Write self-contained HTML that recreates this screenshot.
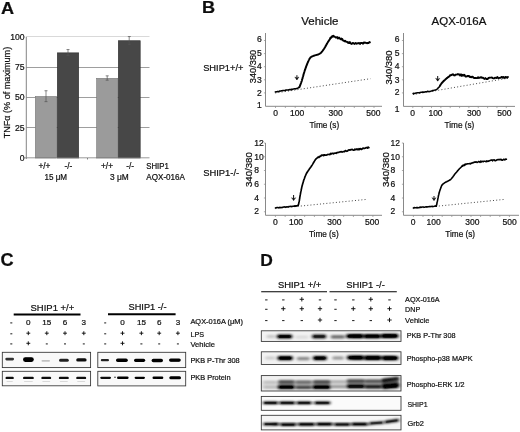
<!DOCTYPE html>
<html><head><meta charset="utf-8"><title>Figure</title>
<style>
html,body{margin:0;padding:0;background:#fff;}
body{width:520px;height:432px;overflow:hidden;font-family:"Liberation Sans",sans-serif;}
svg{display:block;}
text{font-family:"Liberation Sans",sans-serif;fill:#111;stroke:#111;stroke-width:0.22px;}
</style></head><body>
<svg width="520" height="432" viewBox="0 0 520 432">
<defs>
<filter id="b1" x="-20%" y="-100%" width="140%" height="300%"><feGaussianBlur stdDeviation="0.7 0.55"/></filter>
<filter id="b2" x="-20%" y="-100%" width="140%" height="300%"><feGaussianBlur stdDeviation="1.5 0.9"/></filter>
<filter id="soft"><feGaussianBlur stdDeviation="0.35"/></filter>
</defs>
<rect width="520" height="432" fill="#fff"/>
<g filter="url(#soft)">

<text x="0.9" y="14" font-size="17.2" font-weight="bold" fill="#000" stroke="#000" stroke-width="0.6" textLength="13.1" lengthAdjust="spacingAndGlyphs">A</text>
<text x="202" y="13.4" font-size="16.7" font-weight="bold" fill="#000" stroke="#000" stroke-width="0.6" textLength="13.1" lengthAdjust="spacingAndGlyphs">B</text>
<text x="0.5" y="266.3" font-size="17.8" font-weight="bold" fill="#000" stroke="#000" stroke-width="0.6" textLength="13.1" lengthAdjust="spacingAndGlyphs">C</text>
<text x="260.2" y="266.3" font-size="17.3" font-weight="bold" fill="#000" stroke="#000" stroke-width="0.6" textLength="12.6" lengthAdjust="spacingAndGlyphs">D</text>
<line x1="26.3" x2="149.5" y1="127.5" y2="127.5" stroke="#858585" stroke-width="0.8"/>
<line x1="26.3" x2="149.5" y1="97.5" y2="97.5" stroke="#858585" stroke-width="0.8"/>
<line x1="26.3" x2="149.5" y1="67.5" y2="67.5" stroke="#858585" stroke-width="0.8"/>
<line x1="26.3" x2="149.5" y1="36.5" y2="36.5" stroke="#cfcfcf" stroke-width="0.8"/>
<rect x="35.3" y="96.49" width="21.4" height="61.51" fill="#9b9b9b" stroke="#7a7a7a" stroke-width="0.6"/>
<rect x="57.3" y="52.86" width="21.4" height="105.14" fill="#474747" stroke="#2e2e2e" stroke-width="0.6"/>
<rect x="96.6" y="78.31" width="21.1" height="79.69" fill="#9b9b9b" stroke="#7a7a7a" stroke-width="0.6"/>
<rect x="118.3" y="40.74" width="21.9" height="117.26" fill="#474747" stroke="#2e2e2e" stroke-width="0.6"/>
<path d="M46.0 90.73V101.64M44.5 90.73h3M44.5 101.64h3" stroke="#555" stroke-width="0.7" fill="none"/>
<path d="M68.0 49.53V55.59M66.5 49.53h3M66.5 55.59h3" stroke="#555" stroke-width="0.7" fill="none"/>
<path d="M107.2 75.83V80.19M105.7 75.83h3M105.7 80.19h3" stroke="#555" stroke-width="0.7" fill="none"/>
<path d="M129.2 36.56V44.31M127.8 36.56h3M127.8 44.31h3" stroke="#555" stroke-width="0.7" fill="none"/>
<line x1="26.3" x2="26.3" y1="36.80" y2="159.0" stroke="#777" stroke-width="0.9"/>
<line x1="24.5" x2="149.5" y1="157.8" y2="157.8" stroke="#808080" stroke-width="0.8"/>
<line x1="87.5" x2="87.5" y1="158.0" y2="159.5" stroke="#666" stroke-width="0.8"/>
<text x="24.50" y="39.70" font-size="8.6" text-anchor="end" >100</text>
<text x="24.50" y="70.00" font-size="8.6" text-anchor="end" >75</text>
<text x="24.50" y="100.30" font-size="8.6" text-anchor="end" >50</text>
<text x="24.50" y="130.60" font-size="8.6" text-anchor="end" >25</text>
<text x="24.50" y="160.90" font-size="8.6" text-anchor="end" >0</text>
<text x="6.30" y="95.91" font-size="9.2" text-anchor="middle" textLength="91.50" lengthAdjust="spacingAndGlyphs" transform="rotate(-90 6.30 92.60)" >TNF&#945; (% of maximum)</text>
<text x="44.40" y="168.69" font-size="8.3" text-anchor="middle" >+/+</text>
<text x="68.30" y="168.69" font-size="8.3" text-anchor="middle" >-/-</text>
<text x="107.00" y="168.69" font-size="8.3" text-anchor="middle" >+/+</text>
<text x="130.20" y="168.69" font-size="8.3" text-anchor="middle" >-/-</text>
<text x="55.80" y="179.89" font-size="8.3" text-anchor="middle" textLength="22.50" lengthAdjust="spacingAndGlyphs" >15 &#956;M</text>
<text x="119.40" y="179.89" font-size="8.3" text-anchor="middle" textLength="18.70" lengthAdjust="spacingAndGlyphs" >3 &#956;M</text>
<text x="146.30" y="168.95" font-size="8.2" textLength="22.50" lengthAdjust="spacingAndGlyphs" >SHIP1</text>
<text x="146.30" y="179.85" font-size="8.2" textLength="38.70" lengthAdjust="spacingAndGlyphs" >AQX-016A</text>
<text x="319.80" y="24.60" font-size="11.4" text-anchor="middle" textLength="37.20" lengthAdjust="spacingAndGlyphs" >Vehicle</text>
<text x="459.00" y="24.60" font-size="11.4" text-anchor="middle" textLength="54.80" lengthAdjust="spacingAndGlyphs" >AQX-016A</text>
<text x="203.20" y="71.05" font-size="9.3" textLength="40.20" lengthAdjust="spacingAndGlyphs" >SHIP1+/+</text>
<text x="203.20" y="175.51" font-size="9.2" textLength="36.00" lengthAdjust="spacingAndGlyphs" >SHIP1-/-</text>
<path d="M265.5 33V106.3H382" stroke="#7c7c7c" stroke-width="0.9" fill="none"/>
<line x1="263.9" x2="265.5" y1="40.50" y2="40.50" stroke="#8a8a8a" stroke-width="0.7"/>
<line x1="263.9" x2="265.5" y1="53.60" y2="53.60" stroke="#8a8a8a" stroke-width="0.7"/>
<line x1="263.9" x2="265.5" y1="66.70" y2="66.70" stroke="#8a8a8a" stroke-width="0.7"/>
<line x1="263.9" x2="265.5" y1="79.80" y2="79.80" stroke="#8a8a8a" stroke-width="0.7"/>
<line x1="263.9" x2="265.5" y1="92.90" y2="92.90" stroke="#8a8a8a" stroke-width="0.7"/>
<line x1="275.50" x2="275.50" y1="106.3" y2="108.0" stroke="#8a8a8a" stroke-width="0.7"/>
<line x1="285.35" x2="285.35" y1="106.3" y2="108.0" stroke="#8a8a8a" stroke-width="0.7"/>
<line x1="295.20" x2="295.20" y1="106.3" y2="108.0" stroke="#8a8a8a" stroke-width="0.7"/>
<line x1="305.05" x2="305.05" y1="106.3" y2="108.0" stroke="#8a8a8a" stroke-width="0.7"/>
<line x1="314.90" x2="314.90" y1="106.3" y2="108.0" stroke="#8a8a8a" stroke-width="0.7"/>
<line x1="324.75" x2="324.75" y1="106.3" y2="108.0" stroke="#8a8a8a" stroke-width="0.7"/>
<line x1="334.60" x2="334.60" y1="106.3" y2="108.0" stroke="#8a8a8a" stroke-width="0.7"/>
<line x1="344.45" x2="344.45" y1="106.3" y2="108.0" stroke="#8a8a8a" stroke-width="0.7"/>
<line x1="354.30" x2="354.30" y1="106.3" y2="108.0" stroke="#8a8a8a" stroke-width="0.7"/>
<line x1="364.15" x2="364.15" y1="106.3" y2="108.0" stroke="#8a8a8a" stroke-width="0.7"/>
<line x1="374.00" x2="374.00" y1="106.3" y2="108.0" stroke="#8a8a8a" stroke-width="0.7"/>
<text x="261.70" y="41.86" font-size="8.5" text-anchor="end" >6</text>
<text x="261.70" y="55.66" font-size="8.5" text-anchor="end" >5</text>
<text x="261.70" y="69.16" font-size="8.5" text-anchor="end" >4</text>
<text x="261.70" y="82.66" font-size="8.5" text-anchor="end" >3</text>
<text x="261.70" y="95.76" font-size="8.5" text-anchor="end" >2</text>
<text x="261.70" y="108.26" font-size="8.5" text-anchor="end" >1</text>
<text x="275.50" y="116.26" font-size="8.5" text-anchor="middle" >0</text>
<text x="297.20" y="116.26" font-size="8.5" text-anchor="middle" >100</text>
<text x="335.60" y="116.26" font-size="8.5" text-anchor="middle" >300</text>
<text x="373.30" y="116.26" font-size="8.5" text-anchor="middle" >500</text>
<text x="324.30" y="127.60" font-size="8.6" text-anchor="middle" textLength="29.80" lengthAdjust="spacingAndGlyphs" >Time (s)</text>
<text x="252.20" y="69.96" font-size="9.6" text-anchor="middle" textLength="33.40" lengthAdjust="spacingAndGlyphs" transform="rotate(-90 252.20 66.50)" >340/380</text>
<line x1="275.3" y1="93" x2="370.5" y2="78.7" stroke="#333" stroke-width="0.9" stroke-dasharray="1 2.2"/>
<path d="M275.3 91.9 L276.1 91.7 L277.2 91.8 L277.8 91.4 L278.5 91.5 L279.2 91.3 L279.9 91.0 L280.7 91.1 L281.5 90.7 L282.2 90.8 L283.0 90.5 L283.8 90.4 L284.6 90.4 L285.3 90.5 L286.0 90.0 L286.7 89.9 L287.5 90.0 L288.2 90.1 L289.0 89.8 L289.8 89.6 L290.6 89.8 L291.4 89.2 L292.2 89.5 L293.0 89.1 L293.8 88.9 L294.5 88.8 L295.2 88.8 L295.8 88.9 L296.5 88.4 L297.0 88.4 L297.5 88.3 L298.3 87.8 L298.9 87.5 L299.3 87.2" stroke="#000" stroke-width="1.55" fill="none" stroke-linejoin="round" stroke-linecap="round"/>
<path d="M299.3 87.2 L299.6 86.8 L299.8 86.3 L300.0 85.7 L300.3 84.9 L300.7 83.9 L300.9 83.3 L301.2 82.6 L301.4 81.8 L301.7 81.1 L301.9 80.5 L302.0 79.9 L302.2 79.3 L302.4 78.7 L302.6 78.1 L302.7 77.4 L302.9 76.8 L303.1 76.2 L303.3 75.5 L303.5 74.9 L303.6 74.3 L303.8 73.6 L304.0 73.0 L304.2 72.4 L304.4 71.8 L304.5 71.3 L304.7 70.7 L304.9 70.2 L305.2 69.4 L305.4 68.7 L305.7 67.9 L306.0 67.2 L306.2 66.4 L306.5 65.7 L306.8 65.0 L307.1 64.2 L307.3 63.6 L307.6 62.9 L307.9 62.3 L308.1 61.7 L308.4 61.1 L308.6 60.5 L309.1 59.6 L309.5 58.8 L309.9 58.3 L310.2 57.8 L310.5 57.5 L310.8 57.2 L311.2 57.0 L311.7 56.7 L312.3 56.4 L313.0 56.1 L313.9 55.7 L314.9 55.4 L315.9 55.1 L317.0 54.8 L318.0 54.5 L318.9 54.1 L319.7 53.7 L320.4 53.2 L321.0 52.7 L321.5 52.2 L322.0 51.6 L322.5 51.0 L322.9 50.4 L323.4 49.7 L323.9 49.0 L324.4 48.2 L325.0 47.3 L325.3 46.8 L325.6 46.3 L325.8 45.8 L326.1 45.3 L326.4 44.8 L326.7 44.3 L326.9 43.8 L327.2 43.3 L327.7 42.4 L328.2 41.6 L328.7 40.9 L329.1 40.3 L329.5 39.7 L329.9 39.1 L330.3 38.0 L330.6 37.5 L331.0 37.3 L331.3 37.7 L331.6 37.0 L331.8 36.6 L332.0 36.7 L332.2 36.4 L332.4 36.0 L332.7 36.7 L333.0 36.6 L333.5 35.9 L334.1 36.5 L334.7 36.6 L335.5 37.4 L336.3 37.4 L337.1 37.1 L338.0 38.5 L338.9 37.6 L339.8 38.4 L340.8 39.3 L341.3 38.6 L341.8 39.4 L342.3 39.0 L342.8 40.2 L343.4 40.6 L343.9 40.6 L344.5 41.3 L345.0 40.7 L345.6 41.5 L346.1 41.6 L346.7 41.8 L347.2 41.9 L347.8 42.6 L348.3 43.0 L348.8 42.4 L349.4 42.9 L349.9 42.1 L350.5 43.2 L351.0 43.2 L351.5 43.9 L352.1 43.7 L352.6 43.0 L353.7 43.3 L354.7 43.9 L355.7 43.0 L356.7 43.7 L357.6 43.3 L358.4 43.2 L359.2 43.0 L360.0 44.0 L360.8 42.9 L361.5 43.0 L362.3 43.0 L363.1 43.7 L364.0 42.4 L364.9 42.8 L365.9 42.8 L366.9 43.2 L367.8 43.0 L368.7 43.0 L369.4 42.0 L369.9 42.3" stroke="#000" stroke-width="1.95" fill="none" stroke-linejoin="round" stroke-linecap="round"/>
<path d="M296.9 75.2V79.6" stroke="#111" stroke-width="1" fill="none"/><path d="M294.79999999999995 77.0L296.9 78.0L299.0 77.0L296.9 79.89999999999999Z" fill="#111" stroke="#111" stroke-width="0.4"/>
<path d="M403.5 33V106.4H515" stroke="#7c7c7c" stroke-width="0.9" fill="none"/>
<line x1="401.9" x2="403.5" y1="40.50" y2="40.50" stroke="#8a8a8a" stroke-width="0.7"/>
<line x1="401.9" x2="403.5" y1="53.60" y2="53.60" stroke="#8a8a8a" stroke-width="0.7"/>
<line x1="401.9" x2="403.5" y1="66.70" y2="66.70" stroke="#8a8a8a" stroke-width="0.7"/>
<line x1="401.9" x2="403.5" y1="79.80" y2="79.80" stroke="#8a8a8a" stroke-width="0.7"/>
<line x1="401.9" x2="403.5" y1="92.90" y2="92.90" stroke="#8a8a8a" stroke-width="0.7"/>
<line x1="412.80" x2="412.80" y1="106.4" y2="108.10000000000001" stroke="#8a8a8a" stroke-width="0.7"/>
<line x1="422.15" x2="422.15" y1="106.4" y2="108.10000000000001" stroke="#8a8a8a" stroke-width="0.7"/>
<line x1="431.50" x2="431.50" y1="106.4" y2="108.10000000000001" stroke="#8a8a8a" stroke-width="0.7"/>
<line x1="440.85" x2="440.85" y1="106.4" y2="108.10000000000001" stroke="#8a8a8a" stroke-width="0.7"/>
<line x1="450.20" x2="450.20" y1="106.4" y2="108.10000000000001" stroke="#8a8a8a" stroke-width="0.7"/>
<line x1="459.55" x2="459.55" y1="106.4" y2="108.10000000000001" stroke="#8a8a8a" stroke-width="0.7"/>
<line x1="468.90" x2="468.90" y1="106.4" y2="108.10000000000001" stroke="#8a8a8a" stroke-width="0.7"/>
<line x1="478.25" x2="478.25" y1="106.4" y2="108.10000000000001" stroke="#8a8a8a" stroke-width="0.7"/>
<line x1="487.60" x2="487.60" y1="106.4" y2="108.10000000000001" stroke="#8a8a8a" stroke-width="0.7"/>
<line x1="496.95" x2="496.95" y1="106.4" y2="108.10000000000001" stroke="#8a8a8a" stroke-width="0.7"/>
<line x1="506.30" x2="506.30" y1="106.4" y2="108.10000000000001" stroke="#8a8a8a" stroke-width="0.7"/>
<text x="399.60" y="41.86" font-size="8.5" text-anchor="end" >6</text>
<text x="399.60" y="55.66" font-size="8.5" text-anchor="end" >5</text>
<text x="399.60" y="69.16" font-size="8.5" text-anchor="end" >4</text>
<text x="399.60" y="82.66" font-size="8.5" text-anchor="end" >3</text>
<text x="399.60" y="95.46" font-size="8.5" text-anchor="end" >2</text>
<text x="399.60" y="112.36" font-size="8.5" text-anchor="end" >1</text>
<text x="412.60" y="116.36" font-size="8.5" text-anchor="middle" >0</text>
<text x="435.50" y="116.36" font-size="8.5" text-anchor="middle" >100</text>
<text x="474.00" y="116.36" font-size="8.5" text-anchor="middle" >300</text>
<text x="504.30" y="116.36" font-size="8.5" text-anchor="middle" >500</text>
<text x="459.40" y="127.50" font-size="8.6" text-anchor="middle" textLength="29.80" lengthAdjust="spacingAndGlyphs" >Time (s)</text>
<text x="388.50" y="70.96" font-size="9.6" text-anchor="middle" textLength="34.20" lengthAdjust="spacingAndGlyphs" transform="rotate(-90 388.50 67.50)" >340/380</text>
<line x1="413" y1="94.6" x2="508" y2="78.2" stroke="#333" stroke-width="0.9" stroke-dasharray="1 2.2"/>
<path d="M413.1 93.5 L413.9 93.3 L414.5 93.5 L415.1 93.5 L415.7 93.0 L416.4 92.9 L417.1 92.8 L417.9 92.7 L418.7 92.7 L419.4 92.7 L420.2 92.4 L421.0 92.2 L421.8 92.3 L422.6 92.1 L423.3 92.1 L424.0 92.2 L424.7 92.0 L425.4 91.8 L426.2 91.8 L426.9 91.7 L427.7 91.3 L428.4 91.6 L429.2 91.4 L429.9 91.4 L430.7 91.2 L431.4 90.9 L432.0 90.8 L432.7 90.6 L433.3 90.7 L433.9 90.3 L434.9 90.1 L435.7 89.9 L436.2 89.7 L436.6 89.6 L436.9 89.3 L437.2 89.0 L437.4 88.8 L437.7 88.4 L438.1 88.1 L438.6 87.4 L439.1 87.2 L439.6 86.3 L440.1 85.5" stroke="#000" stroke-width="1.55" fill="none" stroke-linejoin="round" stroke-linecap="round"/>
<path d="M440.1 85.5 L440.6 84.7 L441.1 84.0 L441.7 83.2 L442.3 82.5 L442.9 81.8 L443.5 81.2 L444.2 80.5 L444.9 79.9 L445.6 79.2 L446.2 78.7 L446.9 78.1 L447.6 77.6 L448.2 77.1 L448.9 76.7 L449.5 76.3 L450.1 75.3 L450.7 75.2 L451.4 75.0 L452.1 74.8 L452.9 74.2 L453.8 75.2 L454.7 75.4 L455.7 74.6 L456.8 74.6 L457.9 74.1 L458.4 74.2 L459.0 74.6 L459.5 74.5 L460.1 75.5 L460.7 74.5 L461.3 74.4 L461.9 75.9 L462.5 75.3 L463.1 74.8 L463.7 75.5 L464.4 74.9 L465.0 75.8 L465.7 76.6 L466.3 76.5 L467.0 76.4 L467.7 75.9 L468.4 76.2 L469.1 76.0 L469.8 77.1 L470.5 76.8 L471.2 77.3 L471.9 76.7 L472.6 76.7 L473.4 77.7 L474.2 78.0 L474.9 77.9 L475.7 77.9 L476.5 78.1 L477.3 78.0 L478.1 77.3 L478.9 77.9 L479.7 77.7 L480.6 77.3 L481.4 77.3 L482.2 77.8 L483.0 77.8 L483.8 78.5 L484.6 78.9 L485.4 78.1 L486.2 78.9 L487.0 78.9 L487.8 78.9 L488.6 77.9 L489.5 77.7 L490.3 77.6 L491.1 77.6 L491.9 77.5 L492.7 78.1 L493.5 78.4 L494.3 78.3 L495.0 77.7 L495.8 77.9 L496.6 78.1 L497.3 77.0 L498.0 77.8 L498.8 78.1 L499.6 77.9 L500.3 77.8 L501.1 77.4 L501.9 76.9 L502.6 77.7 L503.4 77.0 L504.1 77.7 L504.8 77.9 L505.4 77.0 L506.0 77.0 L507.1 77.7 L507.9 77.0" stroke="#000" stroke-width="1.95" fill="none" stroke-linejoin="round" stroke-linecap="round"/>
<path d="M437.7 76.0V80.9" stroke="#111" stroke-width="1" fill="none"/><path d="M435.59999999999997 78.30000000000001L437.7 79.30000000000001L439.8 78.30000000000001L437.7 81.2Z" fill="#111" stroke="#111" stroke-width="0.4"/>
<path d="M265.5 143V215.3H382" stroke="#7c7c7c" stroke-width="0.9" fill="none"/>
<line x1="263.9" x2="265.5" y1="143.00" y2="143.00" stroke="#8a8a8a" stroke-width="0.7"/>
<line x1="263.9" x2="265.5" y1="156.75" y2="156.75" stroke="#8a8a8a" stroke-width="0.7"/>
<line x1="263.9" x2="265.5" y1="170.50" y2="170.50" stroke="#8a8a8a" stroke-width="0.7"/>
<line x1="263.9" x2="265.5" y1="184.25" y2="184.25" stroke="#8a8a8a" stroke-width="0.7"/>
<line x1="263.9" x2="265.5" y1="198.00" y2="198.00" stroke="#8a8a8a" stroke-width="0.7"/>
<line x1="263.9" x2="265.5" y1="211.75" y2="211.75" stroke="#8a8a8a" stroke-width="0.7"/>
<line x1="275.40" x2="275.40" y1="215.3" y2="217.0" stroke="#8a8a8a" stroke-width="0.7"/>
<line x1="285.15" x2="285.15" y1="215.3" y2="217.0" stroke="#8a8a8a" stroke-width="0.7"/>
<line x1="294.90" x2="294.90" y1="215.3" y2="217.0" stroke="#8a8a8a" stroke-width="0.7"/>
<line x1="304.65" x2="304.65" y1="215.3" y2="217.0" stroke="#8a8a8a" stroke-width="0.7"/>
<line x1="314.40" x2="314.40" y1="215.3" y2="217.0" stroke="#8a8a8a" stroke-width="0.7"/>
<line x1="324.15" x2="324.15" y1="215.3" y2="217.0" stroke="#8a8a8a" stroke-width="0.7"/>
<line x1="333.90" x2="333.90" y1="215.3" y2="217.0" stroke="#8a8a8a" stroke-width="0.7"/>
<line x1="343.65" x2="343.65" y1="215.3" y2="217.0" stroke="#8a8a8a" stroke-width="0.7"/>
<line x1="353.40" x2="353.40" y1="215.3" y2="217.0" stroke="#8a8a8a" stroke-width="0.7"/>
<line x1="363.15" x2="363.15" y1="215.3" y2="217.0" stroke="#8a8a8a" stroke-width="0.7"/>
<line x1="372.90" x2="372.90" y1="215.3" y2="217.0" stroke="#8a8a8a" stroke-width="0.7"/>
<text x="254.30" y="145.86" font-size="8.5" >12</text>
<text x="254.30" y="159.56" font-size="8.5" >10</text>
<text x="254.30" y="173.36" font-size="8.5" >8</text>
<text x="254.30" y="187.46" font-size="8.5" >6</text>
<text x="254.30" y="200.96" font-size="8.5" >4</text>
<text x="254.30" y="214.16" font-size="8.5" >2</text>
<text x="275.30" y="224.86" font-size="8.5" text-anchor="middle" >0</text>
<text x="296.00" y="224.86" font-size="8.5" text-anchor="middle" >100</text>
<text x="334.30" y="224.86" font-size="8.5" text-anchor="middle" >300</text>
<text x="372.20" y="224.86" font-size="8.5" text-anchor="middle" >500</text>
<text x="323.80" y="236.60" font-size="8.6" text-anchor="middle" textLength="29.80" lengthAdjust="spacingAndGlyphs" >Time (s)</text>
<text x="248.90" y="173.06" font-size="9.6" text-anchor="middle" textLength="35.00" lengthAdjust="spacingAndGlyphs" transform="rotate(-90 248.90 169.60)" >340/380</text>
<line x1="275.4" y1="208.6" x2="366.4" y2="199.4" stroke="#333" stroke-width="0.9" stroke-dasharray="1 2.2"/>
<path d="M275.4 208.0 L276.1 207.7 L277.1 207.5 L277.7 207.5 L278.3 207.8 L279.0 207.7 L279.7 207.3 L280.4 207.6 L281.1 207.6 L281.7 207.4 L282.4 207.2 L283.1 207.2 L283.8 206.9 L284.4 206.8 L285.0 207.2 L285.6 207.0 L286.2 206.9 L286.7 207.1 L287.3 206.8 L287.9 206.9 L288.5 206.8 L289.1 206.5 L289.7 206.5 L290.2 206.4 L290.8 206.3 L291.8 206.4 L292.8 206.2 L293.6 206.2 L294.3 205.9 L294.9 206.3 L295.4 205.9 L295.9 205.9" stroke="#000" stroke-width="1.55" fill="none" stroke-linejoin="round" stroke-linecap="round"/>
<path d="M295.9 205.9 L296.3 205.9 L296.6 205.8 L296.9 205.8 L297.2 205.7 L297.4 205.7 L297.6 205.7 L297.8 205.7 L297.9 205.7 L297.9 205.7 L298.0 205.7 L298.1 205.5 L298.2 205.3 L298.3 205.0 L298.4 204.6 L298.6 204.1 L298.7 203.6 L298.8 203.1 L298.9 202.4 L299.1 201.7 L299.2 201.0 L299.4 200.2 L299.5 199.3 L299.7 198.3 L299.8 197.3 L300.0 196.3 L300.2 195.2 L300.3 194.7 L300.4 194.1 L300.5 193.6 L300.6 193.0 L300.7 192.4 L300.8 191.9 L300.9 191.3 L301.1 190.7 L301.2 190.1 L301.3 189.5 L301.4 188.9 L301.6 188.3 L301.7 187.7 L301.8 187.1 L302.0 186.5 L302.1 185.8 L302.3 185.2 L302.5 184.6 L302.6 184.0 L302.8 183.4 L303.0 182.8 L303.2 182.2 L303.4 181.6 L303.5 181.0 L303.7 180.3 L303.9 179.7 L304.2 179.1 L304.4 178.5 L304.6 177.9 L304.8 177.3 L305.0 176.7 L305.3 176.1 L305.5 175.5 L305.8 174.9 L306.0 174.4 L306.3 173.8 L306.6 173.3 L306.9 172.7 L307.2 172.2 L307.5 171.7 L307.8 171.2 L308.2 170.7 L308.5 170.2 L308.9 169.7 L309.2 169.2 L309.5 168.8 L309.9 168.3 L310.2 167.8 L310.6 167.4 L310.9 166.9 L311.2 166.5 L311.5 166.0 L312.1 165.1 L312.4 164.6 L312.7 164.1 L313.2 163.2 L313.8 162.3 L314.3 161.4 L314.8 160.6 L315.3 159.8 L315.8 159.2 L316.3 158.7 L316.7 158.2 L317.2 157.9 L317.6 157.5 L318.0 157.2 L318.4 157.2 L318.9 157.4 L319.3 156.5 L319.7 156.9 L320.1 156.2 L320.5 156.1 L320.9 156.0 L321.4 155.2 L321.8 155.7 L322.4 155.2 L323.0 154.9 L323.7 155.7 L324.4 154.8 L325.2 155.1 L326.0 155.2 L326.8 154.9 L327.8 154.4 L328.9 154.5 L329.4 154.4 L330.0 154.6 L330.6 153.5 L331.3 154.0 L332.0 153.4 L332.7 153.3 L333.4 153.8 L334.2 153.3 L335.0 153.2 L335.8 153.2 L336.3 153.3 L336.9 152.6 L337.4 152.7 L337.9 152.4 L338.5 152.3 L339.0 152.4 L339.8 151.9 L340.6 151.9 L341.4 151.6 L342.2 152.1 L343.0 151.6 L343.7 151.7 L344.5 151.7 L345.3 150.6 L346.1 150.9 L346.9 151.3 L347.6 151.0 L348.4 150.0 L349.2 149.8 L349.9 150.2 L350.7 149.6 L351.4 149.7 L352.2 149.3 L352.9 150.0 L353.6 150.1 L354.3 150.1 L355.0 149.1 L355.7 149.7 L356.3 149.5 L357.0 148.8 L357.7 149.7 L358.3 149.7 L359.0 148.6 L359.6 149.5 L360.2 148.7 L360.8 148.8 L361.4 149.4 L362.0 149.1 L363.0 148.1 L364.0 148.3 L364.9 148.3 L365.7 147.9 L366.4 147.6 L367.1 147.7 L367.6 148.1 L368.1 147.1 L368.6 147.7 L368.9 147.6" stroke="#000" stroke-width="1.7" fill="none" stroke-linejoin="round" stroke-linecap="round"/>
<path d="M293.6 195V200.3" stroke="#111" stroke-width="1" fill="none"/><path d="M291.5 197.70000000000002L293.6 198.70000000000002L295.70000000000005 197.70000000000002L293.6 200.60000000000002Z" fill="#111" stroke="#111" stroke-width="0.4"/>
<path d="M403.5 143V215.3H519" stroke="#7c7c7c" stroke-width="0.9" fill="none"/>
<line x1="401.9" x2="403.5" y1="143.00" y2="143.00" stroke="#8a8a8a" stroke-width="0.7"/>
<line x1="401.9" x2="403.5" y1="156.75" y2="156.75" stroke="#8a8a8a" stroke-width="0.7"/>
<line x1="401.9" x2="403.5" y1="170.50" y2="170.50" stroke="#8a8a8a" stroke-width="0.7"/>
<line x1="401.9" x2="403.5" y1="184.25" y2="184.25" stroke="#8a8a8a" stroke-width="0.7"/>
<line x1="401.9" x2="403.5" y1="198.00" y2="198.00" stroke="#8a8a8a" stroke-width="0.7"/>
<line x1="401.9" x2="403.5" y1="211.75" y2="211.75" stroke="#8a8a8a" stroke-width="0.7"/>
<line x1="413.40" x2="413.40" y1="215.3" y2="217.0" stroke="#8a8a8a" stroke-width="0.7"/>
<line x1="423.00" x2="423.00" y1="215.3" y2="217.0" stroke="#8a8a8a" stroke-width="0.7"/>
<line x1="432.60" x2="432.60" y1="215.3" y2="217.0" stroke="#8a8a8a" stroke-width="0.7"/>
<line x1="442.20" x2="442.20" y1="215.3" y2="217.0" stroke="#8a8a8a" stroke-width="0.7"/>
<line x1="451.80" x2="451.80" y1="215.3" y2="217.0" stroke="#8a8a8a" stroke-width="0.7"/>
<line x1="461.40" x2="461.40" y1="215.3" y2="217.0" stroke="#8a8a8a" stroke-width="0.7"/>
<line x1="471.00" x2="471.00" y1="215.3" y2="217.0" stroke="#8a8a8a" stroke-width="0.7"/>
<line x1="480.60" x2="480.60" y1="215.3" y2="217.0" stroke="#8a8a8a" stroke-width="0.7"/>
<line x1="490.20" x2="490.20" y1="215.3" y2="217.0" stroke="#8a8a8a" stroke-width="0.7"/>
<line x1="499.80" x2="499.80" y1="215.3" y2="217.0" stroke="#8a8a8a" stroke-width="0.7"/>
<line x1="509.40" x2="509.40" y1="215.3" y2="217.0" stroke="#8a8a8a" stroke-width="0.7"/>
<text x="390.60" y="145.86" font-size="8.5" >12</text>
<text x="390.60" y="159.56" font-size="8.5" >10</text>
<text x="390.60" y="173.16" font-size="8.5" >8</text>
<text x="390.60" y="187.46" font-size="8.5" >6</text>
<text x="390.60" y="200.66" font-size="8.5" >4</text>
<text x="390.60" y="214.16" font-size="8.5" >2</text>
<text x="413.20" y="224.86" font-size="8.5" text-anchor="middle" >0</text>
<text x="433.60" y="224.86" font-size="8.5" text-anchor="middle" >100</text>
<text x="472.40" y="224.86" font-size="8.5" text-anchor="middle" >300</text>
<text x="509.60" y="224.86" font-size="8.5" text-anchor="middle" >500</text>
<text x="460.20" y="236.60" font-size="8.6" text-anchor="middle" textLength="29.80" lengthAdjust="spacingAndGlyphs" >Time (s)</text>
<text x="386.00" y="173.06" font-size="9.6" text-anchor="middle" textLength="35.00" lengthAdjust="spacingAndGlyphs" transform="rotate(-90 386.00 169.60)" >340/380</text>
<line x1="413.4" y1="208.6" x2="504.4" y2="199.4" stroke="#333" stroke-width="0.9" stroke-dasharray="1 2.2"/>
<path d="M413.4 207.9 L414.3 207.6 L414.9 207.7 L415.5 207.8 L416.2 207.7 L417.0 207.4 L417.8 207.8 L418.6 207.7 L419.1 207.7 L419.7 207.2 L420.2 207.3 L420.8 207.1 L421.4 207.4 L421.9 207.1 L422.7 207.0 L423.5 207.1 L424.3 207.3 L425.0 207.2 L425.7 206.8 L426.4 206.7 L427.1 207.0 L427.9 206.8 L428.6 206.8 L429.3 206.4 L430.0 206.4 L430.8 206.6 L431.4 206.4 L432.1 206.2 L432.7 206.6 L433.3 206.4 L434.4 206.3 L435.2 205.9 L435.8 206.2 L436.1 206.1" stroke="#000" stroke-width="1.55" fill="none" stroke-linejoin="round" stroke-linecap="round"/>
<path d="M436.1 206.1 L436.3 206.1 L436.3 206.2 L436.3 206.2 L436.2 206.1 L436.2 206.0 L436.3 205.8 L436.4 205.5 L436.5 205.1 L436.7 204.6 L436.8 204.1 L436.9 203.6 L437.0 202.9 L437.1 202.2 L437.3 201.5 L437.5 200.7 L437.7 199.7 L437.9 198.7 L438.1 197.7 L438.2 197.1 L438.3 196.6 L438.5 195.5 L438.8 194.5 L439.0 193.5 L439.3 192.6 L439.5 191.6 L439.8 190.7 L440.1 189.8 L440.4 189.0 L440.7 188.2 L441.0 187.4 L441.2 186.8 L441.4 186.3 L441.6 185.8 L441.8 185.5 L442.0 185.2 L442.1 184.9 L442.3 184.7 L442.6 184.5 L442.8 184.2 L443.1 183.9 L443.3 183.7 L443.6 183.5 L443.9 183.3 L444.2 183.1 L444.6 182.8 L445.0 182.6 L445.5 182.3 L446.0 182.0 L446.7 181.7 L447.4 181.3 L448.1 181.0 L448.8 180.6 L449.5 180.2 L450.2 179.8 L450.8 179.3 L451.3 178.8 L451.8 178.2 L452.3 177.6 L452.8 177.0 L453.2 176.3 L453.7 175.7 L454.2 175.0 L454.7 174.3 L455.3 173.6 L456.0 172.8 L456.7 172.0 L457.4 171.1 L458.1 170.3 L458.8 169.5 L459.4 168.8 L460.0 168.2 L460.5 167.7 L461.0 167.2 L461.5 166.8 L461.9 166.4 L462.3 165.5 L462.8 166.2 L463.2 165.4 L463.6 165.0 L464.0 165.1 L464.4 165.4 L464.8 164.5 L465.2 164.2 L465.6 164.7 L466.0 164.3 L466.5 164.0 L467.0 164.0 L467.6 163.7 L468.3 163.7 L469.0 163.7 L469.8 163.5 L470.5 163.9 L471.3 163.1 L472.1 163.2 L472.9 162.6 L473.7 162.6 L474.5 162.0 L475.3 162.2 L476.2 161.7 L477.0 162.5 L477.8 162.1 L478.6 161.5 L479.4 161.8 L480.1 162.3 L480.7 161.1 L481.3 162.0 L481.8 161.4 L482.5 161.4 L483.2 161.8 L484.0 161.2 L485.0 161.2 L485.6 161.4 L486.2 161.7 L486.9 160.8 L487.7 161.4 L488.4 161.1 L489.2 160.9 L489.8 160.6 L490.3 160.5 L490.9 160.0 L491.4 160.1 L492.0 159.9 L492.6 160.8 L493.1 160.1 L493.7 159.9 L494.2 159.7 L495.0 160.6 L495.8 160.6 L496.5 160.3 L497.2 159.7 L497.9 159.6 L498.6 159.6 L499.2 159.8 L499.9 159.3 L500.6 159.7 L501.3 159.4 L501.9 160.2 L502.6 160.2 L503.2 159.6 L503.8 159.2 L504.8 160.0 L505.7 159.1 L506.4 159.3" stroke="#000" stroke-width="1.6" fill="none" stroke-linejoin="round" stroke-linecap="round"/>
<path d="M434 196V200.3" stroke="#111" stroke-width="1" fill="none"/><path d="M431.9 197.70000000000002L434 198.70000000000002L436.1 197.70000000000002L434 200.60000000000002Z" fill="#111" stroke="#111" stroke-width="0.4"/>
<text x="52.40" y="310.88" font-size="9.4" text-anchor="middle" textLength="43.70" lengthAdjust="spacingAndGlyphs" >SHIP1 +/+</text>
<text x="147.50" y="310.18" font-size="9.1" text-anchor="middle" textLength="38.00" lengthAdjust="spacingAndGlyphs" >SHIP1 -/-</text>
<line x1="13.7" x2="80.5" y1="314.6" y2="314.6" stroke="#000" stroke-width="2"/>
<line x1="108" x2="175.6" y1="314.3" y2="314.3" stroke="#000" stroke-width="2"/>
<path d="M10.30 322.90h2" stroke="#111" stroke-width="0.95" fill="none"/>
<text x="28.30" y="325.22" font-size="8.1" text-anchor="middle" >0</text>
<text x="46.80" y="325.22" font-size="8.1" text-anchor="middle" >15</text>
<text x="65.00" y="325.22" font-size="8.1" text-anchor="middle" >6</text>
<text x="83.80" y="325.22" font-size="8.1" text-anchor="middle" >3</text>
<path d="M10.30 333.80h2" stroke="#111" stroke-width="0.95" fill="none"/>
<path d="M26.35 333.20h3.9M28.30 331.25v3.9" stroke="#111" stroke-width="0.95" fill="none"/>
<path d="M44.85 333.20h3.9M46.80 331.25v3.9" stroke="#111" stroke-width="0.95" fill="none"/>
<path d="M63.05 333.20h3.9M65.00 331.25v3.9" stroke="#111" stroke-width="0.95" fill="none"/>
<path d="M81.85 333.20h3.9M83.80 331.25v3.9" stroke="#111" stroke-width="0.95" fill="none"/>
<path d="M10.30 343.90h2" stroke="#111" stroke-width="0.95" fill="none"/>
<path d="M26.35 343.30h3.9M28.30 341.35v3.9" stroke="#111" stroke-width="0.95" fill="none"/>
<path d="M45.80 343.90h2" stroke="#111" stroke-width="0.95" fill="none"/>
<path d="M64.00 343.90h2" stroke="#111" stroke-width="0.95" fill="none"/>
<path d="M82.80 343.90h2" stroke="#111" stroke-width="0.95" fill="none"/>
<path d="M104.20 322.90h2" stroke="#111" stroke-width="0.95" fill="none"/>
<text x="122.50" y="325.22" font-size="8.1" text-anchor="middle" >0</text>
<text x="141.40" y="325.22" font-size="8.1" text-anchor="middle" >15</text>
<text x="159.20" y="325.22" font-size="8.1" text-anchor="middle" >6</text>
<text x="177.90" y="325.22" font-size="8.1" text-anchor="middle" >3</text>
<path d="M104.20 333.80h2" stroke="#111" stroke-width="0.95" fill="none"/>
<path d="M120.55 333.20h3.9M122.50 331.25v3.9" stroke="#111" stroke-width="0.95" fill="none"/>
<path d="M139.45 333.20h3.9M141.40 331.25v3.9" stroke="#111" stroke-width="0.95" fill="none"/>
<path d="M157.25 333.20h3.9M159.20 331.25v3.9" stroke="#111" stroke-width="0.95" fill="none"/>
<path d="M175.95 333.20h3.9M177.90 331.25v3.9" stroke="#111" stroke-width="0.95" fill="none"/>
<path d="M104.20 343.90h2" stroke="#111" stroke-width="0.95" fill="none"/>
<path d="M120.55 343.30h3.9M122.50 341.35v3.9" stroke="#111" stroke-width="0.95" fill="none"/>
<path d="M140.40 343.90h2" stroke="#111" stroke-width="0.95" fill="none"/>
<path d="M158.20 343.90h2" stroke="#111" stroke-width="0.95" fill="none"/>
<path d="M176.90 343.90h2" stroke="#111" stroke-width="0.95" fill="none"/>
<text x="190.40" y="324.38" font-size="8.0" textLength="52.60" lengthAdjust="spacingAndGlyphs" >AQX-016A (&#956;M)</text>
<text x="190.40" y="336.71" font-size="7.8" textLength="13.60" lengthAdjust="spacingAndGlyphs" >LPS</text>
<text x="190.40" y="346.68" font-size="8.0" textLength="24.50" lengthAdjust="spacingAndGlyphs" >Vehicle</text>
<text x="190.40" y="363.18" font-size="8.0" textLength="49.30" lengthAdjust="spacingAndGlyphs" >PKB P-Thr 308</text>
<text x="190.40" y="380.18" font-size="8.0" textLength="40.20" lengthAdjust="spacingAndGlyphs" >PKB Protein</text>
<rect x="2.3" y="352.3" width="88.30" height="15.30" fill="#f9f9f9" stroke="#333" stroke-width="0.85"/>
<rect x="2.3" y="371.3" width="88.30" height="14.50" fill="#f9f9f9" stroke="#333" stroke-width="0.85"/>
<rect x="97.8" y="352.3" width="87.90" height="15.30" fill="#f9f9f9" stroke="#333" stroke-width="0.85"/>
<rect x="97.8" y="371.3" width="87.90" height="14.60" fill="#f9f9f9" stroke="#333" stroke-width="0.85"/>
<rect x="5.3" y="357.80" width="8.7" height="2.60" rx="1.30" fill="#000" opacity="0.8" filter="url(#b1)"/>
<rect x="23.0" y="357.30" width="10.8" height="4.60" rx="2.30" fill="#000" opacity="1.0" filter="url(#b1)"/>
<rect x="24.0" y="357.85" width="9.0" height="3.50" rx="1.75" fill="#000" opacity="0.9" filter="url(#b1)"/>
<rect x="41.5" y="359.90" width="8.5" height="1.80" rx="0.90" fill="#000" opacity="0.22" filter="url(#b1)"/>
<rect x="59.0" y="358.70" width="9.8" height="3.00" rx="1.50" fill="#000" opacity="0.85" filter="url(#b1)"/>
<rect x="76.2" y="358.20" width="10.4" height="3.40" rx="1.70" fill="#000" opacity="0.95" filter="url(#b1)"/>
<rect x="5.5" y="376.70" width="8.3" height="2.40" rx="1.20" fill="#000" opacity="0.95" filter="url(#b1)"/>
<rect x="6.5" y="380.90" width="6.3" height="1.00" rx="0.50" fill="#000" opacity="0.12" filter="url(#b1)"/>
<rect x="23.0" y="376.70" width="10.8" height="2.40" rx="1.20" fill="#000" opacity="0.95" filter="url(#b1)"/>
<rect x="24.0" y="380.90" width="8.8" height="1.00" rx="0.50" fill="#000" opacity="0.12" filter="url(#b1)"/>
<rect x="41.3" y="376.70" width="9.9" height="2.40" rx="1.20" fill="#000" opacity="0.95" filter="url(#b1)"/>
<rect x="42.3" y="380.90" width="7.9" height="1.00" rx="0.50" fill="#000" opacity="0.12" filter="url(#b1)"/>
<rect x="58.8" y="376.70" width="10.0" height="2.40" rx="1.20" fill="#000" opacity="0.95" filter="url(#b1)"/>
<rect x="59.8" y="380.90" width="8.0" height="1.00" rx="0.50" fill="#000" opacity="0.12" filter="url(#b1)"/>
<rect x="76.2" y="376.70" width="10.0" height="2.40" rx="1.20" fill="#000" opacity="0.95" filter="url(#b1)"/>
<rect x="77.2" y="380.90" width="8.0" height="1.00" rx="0.50" fill="#000" opacity="0.12" filter="url(#b1)"/>
<rect x="100.8" y="359.10" width="8.2" height="2.20" rx="1.10" fill="#000" opacity="0.85" filter="url(#b1)"/>
<rect x="116.0" y="358.55" width="11.8" height="3.50" rx="1.75" fill="#000" opacity="1.0" filter="url(#b1)"/>
<rect x="134.0" y="358.65" width="11.2" height="3.30" rx="1.65" fill="#000" opacity="1.0" filter="url(#b1)"/>
<rect x="151.6" y="358.70" width="11.4" height="3.60" rx="1.80" fill="#000" opacity="1.0" filter="url(#b1)"/>
<rect x="169.0" y="358.40" width="11.8" height="3.40" rx="1.70" fill="#000" opacity="1.0" filter="url(#b1)"/>
<rect x="117.0" y="359.10" width="9.8" height="2.40" rx="1.20" fill="#000" opacity="0.8" filter="url(#b1)"/>
<rect x="135.0" y="359.10" width="9.2" height="2.40" rx="1.20" fill="#000" opacity="0.8" filter="url(#b1)"/>
<rect x="152.6" y="359.10" width="9.4" height="2.40" rx="1.20" fill="#000" opacity="0.8" filter="url(#b1)"/>
<rect x="170.0" y="359.10" width="9.8" height="2.40" rx="1.20" fill="#000" opacity="0.8" filter="url(#b1)"/>
<rect x="100.2" y="376.70" width="10.8" height="2.20" rx="1.10" fill="#000" opacity="0.95" filter="url(#b1)"/>
<rect x="114.2" y="376.55" width="1.6" height="1.50" rx="0.75" fill="#000" opacity="0.8" filter="url(#b1)"/>
<rect x="117.0" y="376.50" width="11.6" height="2.60" rx="1.30" fill="#000" opacity="1.0" filter="url(#b1)"/>
<rect x="134.6" y="376.65" width="10.4" height="2.30" rx="1.15" fill="#000" opacity="1.0" filter="url(#b1)"/>
<rect x="152.5" y="376.60" width="10.8" height="2.40" rx="1.20" fill="#000" opacity="1.0" filter="url(#b1)"/>
<rect x="169.3" y="376.30" width="11.7" height="3.00" rx="1.50" fill="#000" opacity="1.0" filter="url(#b1)"/>
<text x="299.60" y="287.88" font-size="9.4" text-anchor="middle" textLength="43.30" lengthAdjust="spacingAndGlyphs" >SHIP1 +/+</text>
<text x="365.50" y="287.88" font-size="9.4" text-anchor="middle" textLength="38.60" lengthAdjust="spacingAndGlyphs" >SHIP1 -/-</text>
<line x1="261.2" x2="327" y1="291.7" y2="291.7" stroke="#000" stroke-width="1.1"/>
<line x1="329.5" x2="396.8" y1="291.7" y2="291.7" stroke="#000" stroke-width="1.1"/>
<path d="M265.10 299.90h2.4" stroke="#111" stroke-width="0.95" fill="none"/>
<path d="M282.10 299.90h2.4" stroke="#111" stroke-width="0.95" fill="none"/>
<path d="M299.65 299.30h4.3M301.80 297.15v4.3" stroke="#111" stroke-width="0.95" fill="none"/>
<path d="M318.80 299.90h2.4" stroke="#111" stroke-width="0.95" fill="none"/>
<path d="M334.30 299.90h2.4" stroke="#111" stroke-width="0.95" fill="none"/>
<path d="M352.10 299.90h2.4" stroke="#111" stroke-width="0.95" fill="none"/>
<path d="M368.65 299.30h4.3M370.80 297.15v4.3" stroke="#111" stroke-width="0.95" fill="none"/>
<path d="M388.30 299.90h2.4" stroke="#111" stroke-width="0.95" fill="none"/>
<path d="M265.10 309.30h2.4" stroke="#111" stroke-width="0.95" fill="none"/>
<path d="M281.15 308.70h4.3M283.30 306.55v4.3" stroke="#111" stroke-width="0.95" fill="none"/>
<path d="M299.65 308.70h4.3M301.80 306.55v4.3" stroke="#111" stroke-width="0.95" fill="none"/>
<path d="M317.85 308.70h4.3M320.00 306.55v4.3" stroke="#111" stroke-width="0.95" fill="none"/>
<path d="M334.30 309.30h2.4" stroke="#111" stroke-width="0.95" fill="none"/>
<path d="M351.15 308.70h4.3M353.30 306.55v4.3" stroke="#111" stroke-width="0.95" fill="none"/>
<path d="M368.65 308.70h4.3M370.80 306.55v4.3" stroke="#111" stroke-width="0.95" fill="none"/>
<path d="M387.35 308.70h4.3M389.50 306.55v4.3" stroke="#111" stroke-width="0.95" fill="none"/>
<path d="M265.10 320.60h2.4" stroke="#111" stroke-width="0.95" fill="none"/>
<path d="M282.10 320.60h2.4" stroke="#111" stroke-width="0.95" fill="none"/>
<path d="M300.60 320.60h2.4" stroke="#111" stroke-width="0.95" fill="none"/>
<path d="M317.85 320.00h4.3M320.00 317.85v4.3" stroke="#111" stroke-width="0.95" fill="none"/>
<path d="M334.30 320.60h2.4" stroke="#111" stroke-width="0.95" fill="none"/>
<path d="M352.10 320.60h2.4" stroke="#111" stroke-width="0.95" fill="none"/>
<path d="M369.60 320.60h2.4" stroke="#111" stroke-width="0.95" fill="none"/>
<path d="M387.35 320.00h4.3M389.50 317.85v4.3" stroke="#111" stroke-width="0.95" fill="none"/>
<text x="405.10" y="301.58" font-size="8.0" textLength="34.60" lengthAdjust="spacingAndGlyphs" >AQX-016A</text>
<text x="405.10" y="311.88" font-size="8.0" textLength="15.10" lengthAdjust="spacingAndGlyphs" >DNP</text>
<text x="405.10" y="322.88" font-size="8.0" textLength="24.30" lengthAdjust="spacingAndGlyphs" >Vehicle</text>
<text x="406.70" y="338.48" font-size="8.0" textLength="48.80" lengthAdjust="spacingAndGlyphs" >PKB P-Thr 308</text>
<text x="406.70" y="361.18" font-size="8.0" textLength="65.80" lengthAdjust="spacingAndGlyphs" >Phospho-p38 MAPK</text>
<text x="406.70" y="386.88" font-size="8.0" textLength="57.80" lengthAdjust="spacingAndGlyphs" >Phospho-ERK 1/2</text>
<text x="407.50" y="406.88" font-size="8.0" textLength="20.00" lengthAdjust="spacingAndGlyphs" >SHIP1</text>
<text x="407.50" y="426.18" font-size="8.0" textLength="16.30" lengthAdjust="spacingAndGlyphs" >Grb2</text>
<rect x="261.3" y="330.8" width="139.70" height="10.60" fill="#f2f2f2" stroke="#333" stroke-width="0.85"/>
<rect x="261.3" y="351.8" width="139.70" height="12.70" fill="#f2f2f2" stroke="#333" stroke-width="0.85"/>
<rect x="261.3" y="375.6" width="139.70" height="15.40" fill="#f0f0f0" stroke="#333" stroke-width="0.85"/>
<rect x="261.3" y="396.4" width="139.70" height="13.90" fill="#fbfbfb" stroke="#333" stroke-width="0.85"/>
<rect x="261.3" y="415.3" width="139.70" height="14.60" fill="#f6f6f6" stroke="#333" stroke-width="0.85"/>
<rect x="266.5" y="335.00" width="8.7" height="3.00" rx="1.50" fill="#000" opacity="0.18" filter="url(#b2)"/>
<rect x="276.6" y="334.40" width="15.9" height="4.20" rx="2.10" fill="#000" opacity="1.0" filter="url(#b2)"/>
<rect x="278.7" y="334.90" width="12.1" height="3.20" rx="1.60" fill="#000" opacity="0.7" filter="url(#b1)"/>
<rect x="295.4" y="335.80" width="13.0" height="2.60" rx="1.30" fill="#000" opacity="0.1" filter="url(#b2)"/>
<rect x="311.8" y="334.60" width="14.7" height="3.80" rx="1.90" fill="#000" opacity="0.9" filter="url(#b2)"/>
<rect x="313.8" y="335.10" width="11.0" height="2.80" rx="1.40" fill="#000" opacity="0.4" filter="url(#b1)"/>
<rect x="330.6" y="335.20" width="14.4" height="3.20" rx="1.60" fill="#000" opacity="0.6" filter="url(#b2)"/>
<rect x="345.9" y="334.10" width="17.9" height="4.20" rx="2.10" fill="#000" opacity="1.0" filter="url(#b2)"/>
<rect x="347.9" y="334.60" width="13.8" height="3.20" rx="1.60" fill="#000" opacity="0.8" filter="url(#b1)"/>
<rect x="363.5" y="334.30" width="17.3" height="4.00" rx="2.00" fill="#000" opacity="1.0" filter="url(#b2)"/>
<rect x="365.5" y="334.80" width="13.6" height="3.00" rx="1.50" fill="#000" opacity="0.7" filter="url(#b1)"/>
<rect x="380.8" y="333.80" width="17.9" height="4.20" rx="2.10" fill="#000" opacity="1.0" filter="url(#b2)"/>
<rect x="382.8" y="334.30" width="14.1" height="3.20" rx="1.60" fill="#000" opacity="0.8" filter="url(#b1)"/>
<rect x="351.6" y="334.95" width="43.3" height="2.40" rx="1.20" fill="#000" opacity="0.85" filter="url(#b2)"/>
<rect x="265.1" y="356.60" width="10.1" height="3.00" rx="1.50" fill="#000" opacity="0.16" filter="url(#b2)"/>
<rect x="277.2" y="355.90" width="15.9" height="4.40" rx="2.20" fill="#000" opacity="1.0" filter="url(#b2)"/>
<rect x="279.2" y="356.40" width="12.1" height="3.40" rx="1.70" fill="#000" opacity="0.8" filter="url(#b1)"/>
<rect x="296.8" y="357.00" width="13.0" height="3.20" rx="1.60" fill="#000" opacity="0.45" filter="url(#b2)"/>
<rect x="312.7" y="355.90" width="14.4" height="4.40" rx="2.20" fill="#000" opacity="1.0" filter="url(#b2)"/>
<rect x="314.4" y="356.40" width="11.2" height="3.40" rx="1.70" fill="#000" opacity="0.7" filter="url(#b1)"/>
<rect x="332.3" y="356.40" width="11.5" height="3.00" rx="1.50" fill="#000" opacity="0.4" filter="url(#b2)"/>
<rect x="346.7" y="355.40" width="17.3" height="4.40" rx="2.20" fill="#000" opacity="1.0" filter="url(#b2)"/>
<rect x="348.7" y="355.90" width="13.6" height="3.40" rx="1.70" fill="#000" opacity="0.8" filter="url(#b1)"/>
<rect x="364.0" y="355.80" width="17.3" height="4.20" rx="2.10" fill="#000" opacity="1.0" filter="url(#b2)"/>
<rect x="366.0" y="356.30" width="13.6" height="3.20" rx="1.60" fill="#000" opacity="0.8" filter="url(#b1)"/>
<rect x="381.9" y="356.00" width="16.7" height="4.20" rx="2.10" fill="#000" opacity="1.0" filter="url(#b2)"/>
<rect x="383.6" y="356.50" width="13.3" height="3.20" rx="1.60" fill="#000" opacity="0.8" filter="url(#b1)"/>
<rect x="351.6" y="356.60" width="43.3" height="2.60" rx="1.30" fill="#000" opacity="0.85" filter="url(#b2)"/>
<rect x="262.2" y="380.8" width="137.0" height="7.4" fill="#000" opacity="0.1" filter="url(#b2)"/>
<rect x="263.7" y="381.10" width="13.0" height="2.00" rx="1.00" fill="#000" opacity="0.15" filter="url(#b2)"/>
<rect x="263.7" y="386.50" width="13.0" height="2.00" rx="1.00" fill="#000" opacity="0.22" filter="url(#b2)"/>
<rect x="278.7" y="380.8" width="15.6" height="7.4" fill="#000" opacity="0.25" filter="url(#b2)"/>
<rect x="278.1" y="380.20" width="16.7" height="3.20" rx="1.60" fill="#000" opacity="0.6" filter="url(#b2)"/>
<rect x="277.5" y="385.30" width="17.3" height="3.80" rx="1.90" fill="#000" opacity="1.0" filter="url(#b2)"/>
<rect x="279.8" y="385.80" width="13.3" height="2.80" rx="1.40" fill="#000" opacity="0.8" filter="url(#b1)"/>
<rect x="295.4" y="380.8" width="16.4" height="7.4" fill="#000" opacity="0.18" filter="url(#b2)"/>
<rect x="295.4" y="380.60" width="16.4" height="2.80" rx="1.40" fill="#000" opacity="0.45" filter="url(#b2)"/>
<rect x="295.4" y="386.10" width="16.4" height="3.00" rx="1.50" fill="#000" opacity="0.7" filter="url(#b2)"/>
<rect x="313.3" y="380.8" width="16.7" height="7.4" fill="#000" opacity="0.25" filter="url(#b2)"/>
<rect x="312.7" y="380.20" width="17.9" height="3.20" rx="1.60" fill="#000" opacity="0.62" filter="url(#b2)"/>
<rect x="312.1" y="385.30" width="18.5" height="3.80" rx="1.90" fill="#000" opacity="1.0" filter="url(#b2)"/>
<rect x="314.4" y="385.80" width="14.4" height="2.80" rx="1.40" fill="#000" opacity="0.8" filter="url(#b1)"/>
<rect x="330.6" y="380.50" width="16.2" height="2.00" rx="1.00" fill="#000" opacity="0.28" filter="url(#b2)"/>
<rect x="330.6" y="385.70" width="16.2" height="2.00" rx="1.00" fill="#000" opacity="0.4" filter="url(#b2)"/>
<rect x="347.3" y="380.0" width="17.3" height="7.4" fill="#000" opacity="0.25" filter="url(#b2)"/>
<rect x="346.7" y="379.30" width="18.5" height="3.40" rx="1.70" fill="#000" opacity="0.62" filter="url(#b2)"/>
<rect x="346.7" y="384.60" width="18.5" height="3.60" rx="1.80" fill="#000" opacity="1.0" filter="url(#b2)"/>
<rect x="348.7" y="385.10" width="14.4" height="2.60" rx="1.30" fill="#000" opacity="0.6" filter="url(#b1)"/>
<rect x="365.2" y="380.3" width="16.2" height="7.4" fill="#000" opacity="0.2" filter="url(#b2)"/>
<rect x="364.6" y="379.60" width="17.3" height="3.20" rx="1.60" fill="#000" opacity="0.6" filter="url(#b2)"/>
<rect x="364.6" y="385.10" width="17.3" height="3.40" rx="1.70" fill="#000" opacity="0.9" filter="url(#b2)"/>
<rect x="381.9" y="379.2" width="16.7" height="7.4" fill="#000" opacity="0.5" filter="url(#b2)"/>
<rect x="381.3" y="377.70" width="17.9" height="3.80" rx="1.90" fill="#000" opacity="0.95" filter="url(#b2)" transform="rotate(-8 390.3 379.6)"/>
<rect x="381.3" y="383.60" width="17.9" height="4.80" rx="2.40" fill="#000" opacity="1.0" filter="url(#b2)" transform="rotate(-5 390.3 386.0)"/>
<rect x="383.4" y="384.20" width="14.1" height="3.60" rx="1.80" fill="#000" opacity="0.9" filter="url(#b1)" transform="rotate(-5 390.4 386.0)"/>
<rect x="262.8" y="401.45" width="15.3" height="2.90" rx="1.45" fill="#000" opacity="1.0" filter="url(#b2)"/>
<rect x="264.5" y="401.95" width="11.8" height="1.90" rx="0.95" fill="#000" opacity="0.6" filter="url(#b1)"/>
<rect x="279.2" y="401.45" width="15.9" height="2.90" rx="1.45" fill="#000" opacity="1.0" filter="url(#b2)"/>
<rect x="281.0" y="401.95" width="12.4" height="1.90" rx="0.95" fill="#000" opacity="0.6" filter="url(#b1)"/>
<rect x="296.5" y="401.45" width="15.0" height="2.90" rx="1.45" fill="#000" opacity="1.0" filter="url(#b2)"/>
<rect x="298.3" y="401.95" width="11.5" height="1.90" rx="0.95" fill="#000" opacity="0.6" filter="url(#b1)"/>
<rect x="314.4" y="401.45" width="16.2" height="2.90" rx="1.45" fill="#000" opacity="1.0" filter="url(#b2)"/>
<rect x="316.1" y="401.95" width="12.7" height="1.90" rx="0.95" fill="#000" opacity="0.6" filter="url(#b1)"/>
<rect x="266.5" y="402.30" width="60.6" height="1.20" rx="0.60" fill="#000" opacity="0.45" filter="url(#b2)"/>
<rect x="263.1" y="422.75" width="15.6" height="2.70" rx="1.35" fill="#000" opacity="1.0" filter="url(#b2)"/>
<rect x="264.8" y="423.30" width="12.1" height="1.60" rx="0.80" fill="#000" opacity="0.6" filter="url(#b1)"/>
<rect x="280.4" y="423.35" width="15.6" height="2.70" rx="1.35" fill="#000" opacity="1.0" filter="url(#b2)"/>
<rect x="282.1" y="423.90" width="12.1" height="1.60" rx="0.80" fill="#000" opacity="0.6" filter="url(#b1)"/>
<rect x="298.3" y="422.95" width="16.4" height="2.70" rx="1.35" fill="#000" opacity="1.0" filter="url(#b2)"/>
<rect x="300.0" y="423.50" width="13.0" height="1.60" rx="0.80" fill="#000" opacity="0.6" filter="url(#b1)"/>
<rect x="316.4" y="422.75" width="15.9" height="2.70" rx="1.35" fill="#000" opacity="1.0" filter="url(#b2)"/>
<rect x="318.2" y="423.30" width="12.4" height="1.60" rx="0.80" fill="#000" opacity="0.6" filter="url(#b1)"/>
<rect x="334.3" y="423.15" width="15.9" height="2.70" rx="1.35" fill="#000" opacity="1.0" filter="url(#b2)"/>
<rect x="336.0" y="423.70" width="12.4" height="1.60" rx="0.80" fill="#000" opacity="0.6" filter="url(#b1)"/>
<rect x="351.6" y="422.85" width="15.9" height="2.70" rx="1.35" fill="#000" opacity="1.0" filter="url(#b2)"/>
<rect x="353.4" y="423.40" width="12.4" height="1.60" rx="0.80" fill="#000" opacity="0.6" filter="url(#b1)"/>
<rect x="368.9" y="421.65" width="15.0" height="2.70" rx="1.35" fill="#000" opacity="1.0" filter="url(#b2)" transform="rotate(-4 376.4 423.0)"/>
<rect x="370.7" y="422.20" width="11.5" height="1.60" rx="0.80" fill="#000" opacity="0.6" filter="url(#b1)" transform="rotate(-4 376.4 423.0)"/>
<rect x="384.2" y="419.85" width="15.0" height="2.70" rx="1.35" fill="#000" opacity="1.0" filter="url(#b2)" transform="rotate(-8 391.7 421.2)"/>
<rect x="385.9" y="420.40" width="11.5" height="1.60" rx="0.80" fill="#000" opacity="0.6" filter="url(#b1)" transform="rotate(-8 391.7 421.2)"/>
<rect x="272.3" y="423.60" width="98.1" height="1.40" rx="0.70" fill="#000" opacity="0.7" filter="url(#b2)"/>
</g></svg></body></html>
